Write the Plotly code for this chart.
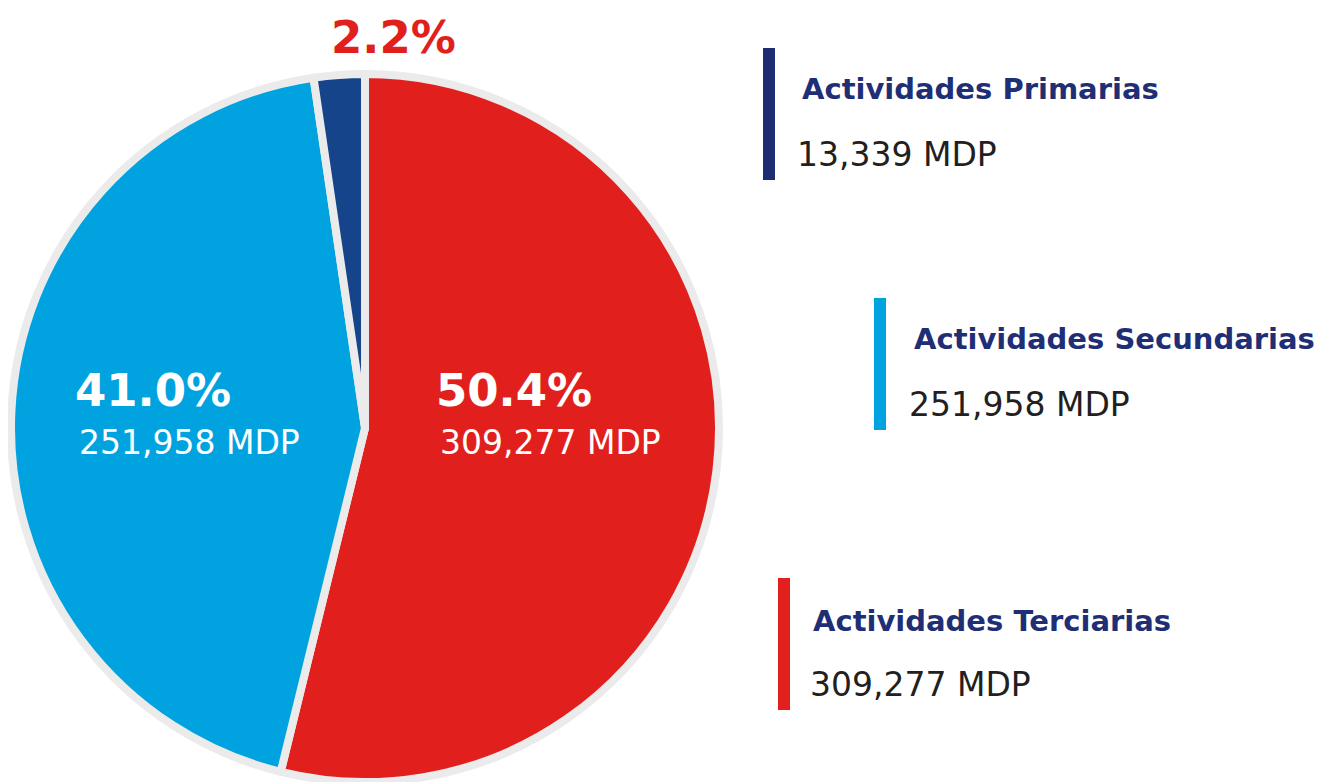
import plotly.graph_objects as go

W, H = 1322, 782
OFF = 8  # margen del body de la pagina

# datos
sectores = ["Actividades Terciarias", "Actividades Secundarias", "Actividades Primarias"]
valores = [309277, 251958, 13339]
porcentajes = ["50.4%", "41.0%", "2.2%"]
etiquetas_mdp = ["309,277 MDP", "251,958 MDP", "13,339 MDP"]
colores = ["#E1201E", "#00A3DF", "#15448A"]
colores_barra = ["#E1201E", "#00A3DF", "#1E2D72"]

NAVY = "#1F2F76"
FONT = "DejaVu Sans"


def px(x):
    return (x - OFF) / W


def py(y):
    return 1 - (y - OFF) / H


fig = go.Figure()
fig.add_trace(go.Pie(
    labels=sectores, values=valores, sort=False, direction="clockwise", rotation=0,
    marker=dict(colors=colores, line=dict(color="#EBEBEB", width=8)),
    textinfo="none", hoverinfo="label+value", showlegend=False,
    domain=dict(x=[px(11), px(719)], y=[py(782), py(74)]),
))

# etiquetas dentro del pastel
pos_pct = {"50.4%": (514, 390, "white"), "41.0%": (153, 390, "white"), "2.2%": (393, 38, "#E1201E")}
for pct in porcentajes:
    x, y, c = pos_pct[pct]
    fig.add_annotation(x=px(x), y=py(y), text=pct, showarrow=False, xref="paper", yref="paper",
                       xanchor="center", yanchor="middle",
                       font=dict(family=FONT, size=45, color=c, weight="bold"))
pos_mdp = [(550, 442), (189, 442)]
for (x, y), t in zip(pos_mdp, etiquetas_mdp[:2]):
    fig.add_annotation(x=px(x), y=py(y), text=t, showarrow=False, xref="paper", yref="paper",
                       xanchor="center", yanchor="middle",
                       font=dict(family=FONT, size=33, color="white"))

# leyenda a la derecha: barra, titulo, valor
leyenda = {  # bar x, bar top, title x, title y, value x, value y
    "Actividades Primarias": (763, 48, 800, 89, 795, 155),
    "Actividades Secundarias": (874, 298, 912, 339, 907, 404),
    "Actividades Terciarias": (778, 578, 811, 621, 808, 684),
}
for nombre, mdp, cb in zip(sectores, etiquetas_mdp, colores_barra):
    bx, bt, tx, ty, vx, vy = leyenda[nombre]
    fig.add_shape(type="rect", xref="paper", yref="paper", x0=px(bx), x1=px(bx + 12),
                  y0=py(bt + 132), y1=py(bt), fillcolor=cb, line=dict(width=0))
    fig.add_annotation(x=px(tx), y=py(ty), text=nombre, showarrow=False, xref="paper", yref="paper",
                       xanchor="left", yanchor="middle",
                       font=dict(family=FONT, size=29, color=NAVY, weight="bold"))
    fig.add_annotation(x=px(vx), y=py(vy), text=mdp, showarrow=False, xref="paper", yref="paper",
                       xanchor="left", yanchor="middle",
                       font=dict(family=FONT, size=33, color="#231F20"))

fig.update_layout(width=W, height=H, margin=dict(l=0, r=0, t=0, b=0),
                  paper_bgcolor="white", plot_bgcolor="white")
fig.write_html("out.html")
